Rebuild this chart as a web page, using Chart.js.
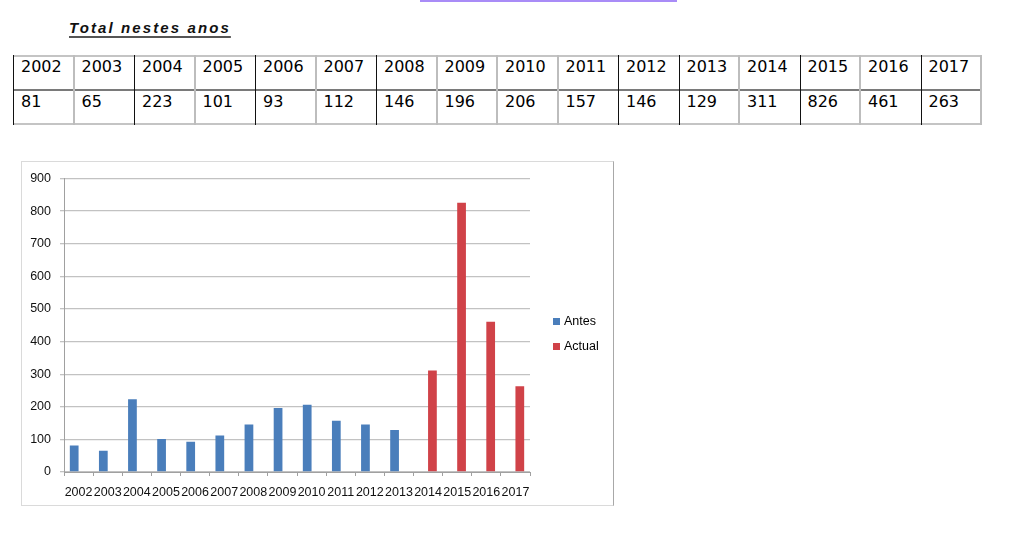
<!DOCTYPE html>
<html>
<head>
<meta charset="utf-8">
<script src="https://cdn.jsdelivr.net/npm/chart.js@4/dist/chart.umd.min.js"></script>
<style>
  html, body { margin:0; padding:0; background:#fff; width:1018px; height:541px; overflow:hidden; }
  body { position:relative; font-family:"Liberation Sans", Arial, sans-serif; }
  #topline { position:absolute; left:420px; top:0; width:257px; height:2px; background:#a98cf7; }
  #title { position:absolute; left:69px; top:19px; font:italic bold 15px "Liberation Sans", Arial, sans-serif;
           letter-spacing:2.1px; color:#111; text-decoration:underline; text-decoration-thickness:2px;
           text-underline-offset:3px; text-decoration-color:#555; white-space:nowrap; }
  .cell { position:absolute; font:16px "DejaVu Sans", Verdana, sans-serif; color:#000; line-height:19px; white-space:nowrap; }
  .hl, .vl { position:absolute; }
  #chartbox { position:absolute; left:21px; top:161px; width:591px; height:343px;
              border:1px solid #dadada; border-right-color:#a8a8a8; }
  #chartbox canvas { position:absolute; left:0; top:0; }
  .leg { position:absolute; font:12.5px "Liberation Sans", Arial, sans-serif; color:#000; line-height:14px; white-space:nowrap; }
  .leg span { display:inline-block; width:7px; height:7px; margin-right:4px; vertical-align:0px; }
</style>
</head>
<body>
<div id="topline"></div>
<div id="title">Total nestes anos</div>
<div id="table"></div>
<div id="chartbox"><canvas id="c" width="591" height="343"></canvas></div>
<div class="leg" style="left:553px; top:314px;"><span style="background:#4A7EBB"></span>Antes</div>
<div class="leg" style="left:553px; top:339px;"><span style="background:#D04248"></span>Actual</div>
<script>
const years = ['2002','2003','2004','2005','2006','2007','2008','2009','2010','2011','2012','2013','2014','2015','2016','2017'];
const tableTotals = [81, 65, 223, 101, 93, 112, 146, 196, 206, 157, 146, 129, 311, 826, 461, 263];
const antes  = [81, 65, 223, 101, 93, 112, 146, 196, 206, 157, 146, 129, null, null, null, null];
const actual = [null, null, null, null, null, null, null, null, null, null, null, null, 311, 826, 461, 263];
const yTicks = [0, 100, 200, 300, 400, 500, 600, 700, 800, 900];

// ----- table -----
(function(){
  const t = document.getElementById('table');
  const left = 13, top = 55, colW = 60.5, n = years.length;
  const right = left + colW * n;
  function add(cls, style, text){ const d=document.createElement('div'); d.className=cls; Object.assign(d.style, style); if(text!==undefined) d.textContent=text; t.appendChild(d); }
  add('hl', {left:left+'px', top:'55px', width:(right-left+1)+'px', height:'2px', background:'#c4c4c4'});
  add('hl', {left:left+'px', top:'89px', width:(right-left+1)+'px', height:'2px', background:'#7a7a7a'});
  add('hl', {left:left+'px', top:'123px', width:(right-left+1)+'px', height:'2px', background:'#c4c4c4'});
  const dark = [1,0,1,0,1,0,1,0,0,0,1,1,0,1,0,1,0];
  for (let i=0;i<=n;i++){
    const x = Math.round(left + colW*i);
    add('vl', dark[i] ? {left:x+'px', top:'55px', width:'1px', height:'70px', background:'#111'}
                      : {left:(x-1)+'px', top:'55px', width:'2px', height:'70px', background:'#bdbdbd'});
  }
  for (let i=0;i<n;i++){
    const x = left + colW*i + 8;
    add('cell', {left:x+'px', top:'57px'}, years[i]);
    add('cell', {left:x+'px', top:'92px'}, String(tableTotals[i]));
  }
})();

// ----- chart -----
const font = {family:'"Liberation Sans", Arial, sans-serif', size:12.5};
new Chart(document.getElementById('c'), {
  type:'bar',
  data:{
    labels: years,
    datasets:[
      {label:'Antes', data: antes, backgroundColor:'#4A7EBB', categoryPercentage:0.6, barPercentage:1.0},
      {label:'Actual', data: actual, backgroundColor:'#D04248', categoryPercentage:0.6, barPercentage:1.0}
    ]
  },
  options:{
    responsive:false, animation:false, devicePixelRatio:1,
    layout:{padding:{top:16, right:83, left:0, bottom:0}},
    plugins:{legend:{display:false}, tooltip:{enabled:false}},
    scales:{
      x:{
        grid:{drawOnChartArea:false, drawTicks:true, tickLength:4, color:'#a0a0a0', offset:true},
        border:{color:'#a0a0a0', width:1},
        ticks:{font, color:'#111', padding:9, maxRotation:0, minRotation:0, autoSkip:false},
        afterFit: s => { s.height = 33; }
      },
      y:{
        min:0, max:900,
        afterBuildTicks: s => { s.ticks = yTicks.map(v => ({value:v})); },
        ticks:{font, color:'#111', padding:9},
        grid:{color:'#c2c2c2', lineWidth:1.3, tickLength:4, drawTicks:true},
        border:{color:'#a0a0a0', width:1},
        afterFit: s => { s.width = 42; }
      }
    }
  }
});
</script>
</body>
</html>
